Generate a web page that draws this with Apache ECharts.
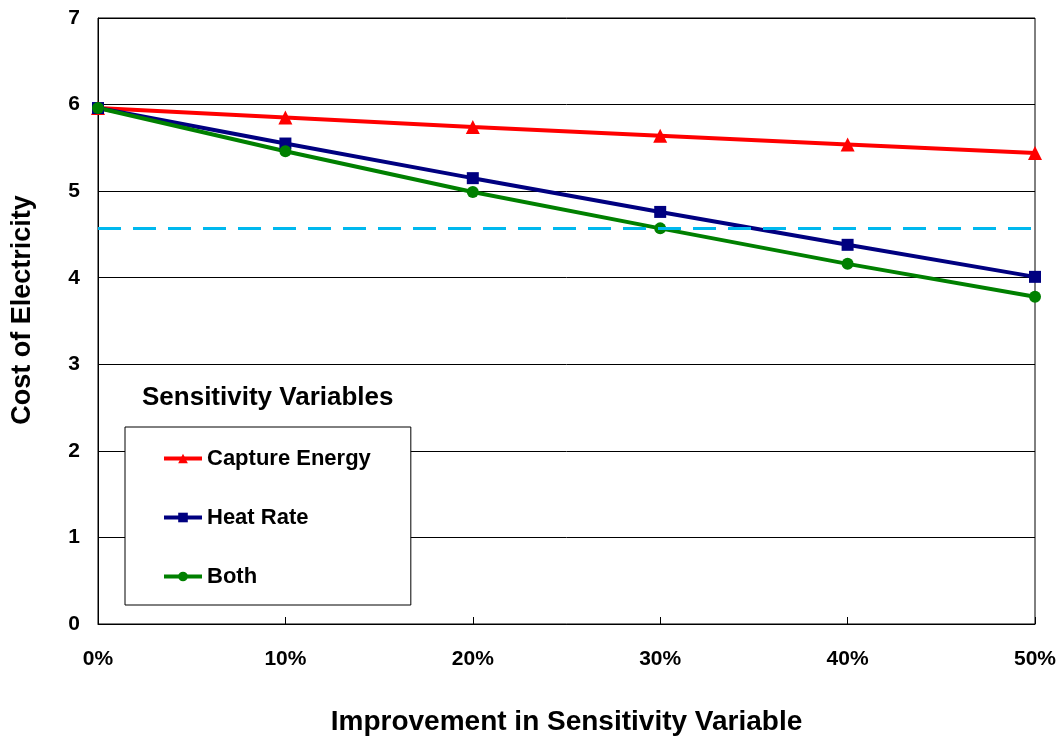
<!DOCTYPE html>
<html>
<head>
<meta charset="utf-8">
<script src="https://cdn.jsdelivr.net/npm/echarts@6/dist/echarts.min.js"></script>
<style>html,body{margin:0;padding:0;background:#fff;}#c{width:1062px;height:742px;}</style>
</head>
<body>
<div id="c"></div>
<script>
const categories = ['0%', '10%', '20%', '30%', '40%', '50%'];
const captureEnergy = [5.96, 5.85, 5.74, 5.64, 5.54, 5.44];
const heatRate = [5.96, 5.55, 5.15, 4.76, 4.38, 4.01];
const both = [5.96, 5.46, 4.99, 4.57, 4.16, 3.78];
const targetLine = 4.57;
const yTicks = [0, 1, 2, 3, 4, 5, 6, 7];

const FF = '"Liberation Sans", Arial, sans-serif';
const chart = echarts.init(document.getElementById('c'), null, {renderer: 'canvas'});

function mkSeries(name, data, color, symbol, size) {
  return {
    name, type: 'line', data,
    symbol, symbolSize: size,
    lineStyle: {color, width: 4},
    itemStyle: {color},
    emphasis: {disabled: true},
    animation: false,
    z: 3
  };
}

const s1 = mkSeries('Capture Energy', captureEnergy, '#FF0000', 'triangle', 14);
const s2 = mkSeries('Heat Rate', heatRate, '#000080', 'rect', 12);
const s3 = mkSeries('Both', both, '#008000', 'circle', 12);
s1.markLine = {
  silent: true, symbol: 'none', animation: false,
  label: {show: false},
  lineStyle: {color: '#00B8EE', type: [23, 12], width: 3},
  data: [{yAxis: targetLine}]
};

chart.setOption({
  animation: false,
  backgroundColor: '#fff',
  textStyle: {fontFamily: FF},
  title: {
    text: 'Sensitivity Variables',
    left: 142, top: 385,
    padding: 0,
    textStyle: {fontFamily: FF, fontWeight: 'bold', fontSize: 26, color: '#000'}
  },
  grid: {
    left: 98, right: 27, top: 18, bottom: 118,
    show: true, borderColor: '#000', borderWidth: 1, backgroundColor: 'transparent'
  },
  legend: {
    orient: 'vertical',
    left: 125, top: 427,
    padding: [19, 40, 16, 37],
    itemGap: 34,
    itemWidth: 38, itemHeight: 12,
    backgroundColor: '#fff',
    borderColor: '#000', borderWidth: 1,
    lineStyle: {width: 4},
    textStyle: {fontFamily: FF, fontWeight: 'bold', fontSize: 22, color: '#000', lineHeight: 25},
    data: ['Capture Energy', 'Heat Rate', 'Both']
  },
  xAxis: {
    type: 'category',
    data: categories,
    boundaryGap: false,
    name: 'Improvement in Sensitivity Variable',
    nameLocation: 'middle',
    nameGap: 84,
    nameTextStyle: {fontFamily: FF, fontWeight: 'bold', fontSize: 28, color: '#000'},
    axisLine: {lineStyle: {color: '#000', width: 1}},
    axisTick: {show: true, inside: true, length: 7, lineStyle: {color: '#000'}},
    axisLabel: {fontFamily: FF, fontWeight: 'bold', fontSize: 21, color: '#000', margin: 25},
    splitLine: {show: false}
  },
  yAxis: {
    type: 'value',
    min: 0, max: 7, interval: 1,
    name: 'Cost of Electricity',
    nameLocation: 'middle',
    nameGap: 62,
    nameRotate: 90,
    nameTextStyle: {fontFamily: FF, fontWeight: 'bold', fontSize: 27, color: '#000', padding: [0, 0, 0, 22]},
    axisLine: {show: true, lineStyle: {color: '#000', width: 1}},
    axisTick: {show: false},
    axisLabel: {fontFamily: FF, fontWeight: 'bold', fontSize: 21, color: '#000', margin: 18,
      formatter: v => yTicks.includes(v) ? String(v) : ''},
    splitLine: {show: true, lineStyle: {color: '#000', width: 1}}
  },
  series: [s1, s2, s3]
});
</script>
</body>
</html>
